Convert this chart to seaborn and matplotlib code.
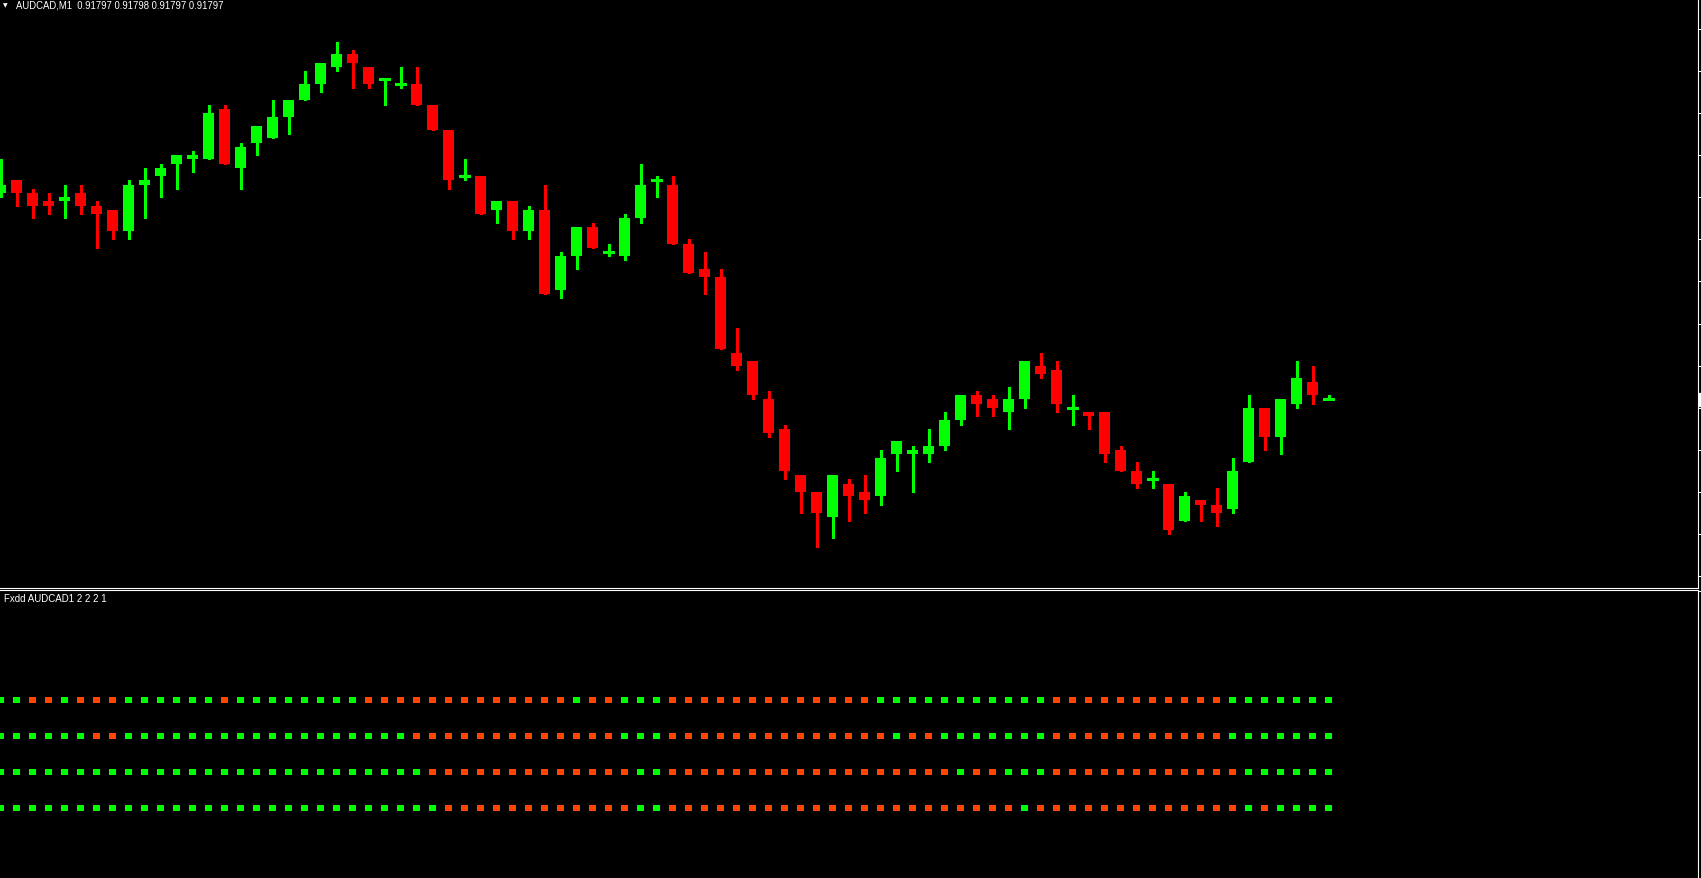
import numpy as np
import pandas as pd
import matplotlib
matplotlib.use("Agg")
import matplotlib.pyplot as plt
import matplotlib.transforms as mtransforms
import seaborn as sns

# ---------------- data ----------------
symbol = "AUDCAD"
timeframe = "M1"
indicator_label = "Fxdd AUDCAD1 2 2 2 1"

open_ = [0.91846, 0.91849, 0.91846, 0.91844, 0.91844, 0.91846, 0.91843, 0.91842, 0.91837, 0.91848,
         0.91850, 0.91853, 0.91854, 0.91854, 0.91866, 0.91852, 0.91858, 0.91859, 0.91864, 0.91868,
         0.91872, 0.91876, 0.91879, 0.91876, 0.91873, 0.91872, 0.91872, 0.91867, 0.91861, 0.91850,
         0.91850, 0.91842, 0.91844, 0.91837, 0.91842, 0.91823, 0.91831, 0.91838, 0.91832, 0.91831,
         0.91840, 0.91849, 0.91848, 0.91834, 0.91828, 0.91826, 0.91808, 0.91806, 0.91797, 0.91790,
         0.91779, 0.91775, 0.91769, 0.91777, 0.91775, 0.91774, 0.91784, 0.91784, 0.91784, 0.91786,
         0.91792, 0.91798, 0.91797, 0.91794, 0.91797, 0.91805, 0.91804, 0.91795, 0.91794, 0.91794,
         0.91785, 0.91780, 0.91778, 0.91777, 0.91768, 0.91773, 0.91772, 0.91771, 0.91782, 0.91795,
         0.91788, 0.91796, 0.91801, 0.91797]
high = [0.91854, 0.91849, 0.91847, 0.91846, 0.91848, 0.91848, 0.91844, 0.91842, 0.91849, 0.91852,
        0.91853, 0.91855, 0.91856, 0.91867, 0.91867, 0.91858, 0.91862, 0.91868, 0.91868, 0.91875,
        0.91877, 0.91882, 0.91880, 0.91876, 0.91873, 0.91876, 0.91876, 0.91867, 0.91861, 0.91854,
        0.91850, 0.91844, 0.91844, 0.91843, 0.91848, 0.91832, 0.91838, 0.91839, 0.91834, 0.91841,
        0.91853, 0.91850, 0.91850, 0.91835, 0.91832, 0.91828, 0.91814, 0.91806, 0.91799, 0.91791,
        0.91779, 0.91775, 0.91779, 0.91778, 0.91779, 0.91785, 0.91787, 0.91786, 0.91790, 0.91794,
        0.91798, 0.91799, 0.91798, 0.91800, 0.91806, 0.91808, 0.91806, 0.91798, 0.91794, 0.91794,
        0.91786, 0.91782, 0.91780, 0.91777, 0.91775, 0.91773, 0.91776, 0.91783, 0.91798, 0.91795,
        0.91797, 0.91806, 0.91805, 0.91798]
low = [0.91845, 0.91843, 0.91840, 0.91841, 0.91840, 0.91841, 0.91833, 0.91835, 0.91835, 0.91840,
       0.91845, 0.91847, 0.91851, 0.91854, 0.91853, 0.91847, 0.91855, 0.91859, 0.91860, 0.91868,
       0.91870, 0.91875, 0.91871, 0.91871, 0.91867, 0.91871, 0.91867, 0.91861, 0.91847, 0.91849,
       0.91841, 0.91839, 0.91835, 0.91835, 0.91822, 0.91821, 0.91828, 0.91833, 0.91831, 0.91830,
       0.91839, 0.91845, 0.91834, 0.91827, 0.91822, 0.91809, 0.91804, 0.91797, 0.91788, 0.91778,
       0.91770, 0.91762, 0.91764, 0.91768, 0.91770, 0.91772, 0.91780, 0.91775, 0.91782, 0.91785,
       0.91791, 0.91793, 0.91793, 0.91790, 0.91795, 0.91802, 0.91794, 0.91791, 0.91790, 0.91782,
       0.91780, 0.91776, 0.91776, 0.91765, 0.91768, 0.91768, 0.91767, 0.91770, 0.91782, 0.91785,
       0.91784, 0.91795, 0.91796, 0.91797]
close = [0.91848, 0.91846, 0.91843, 0.91843, 0.91845, 0.91843, 0.91841, 0.91837, 0.91848, 0.91849,
         0.91852, 0.91855, 0.91855, 0.91865, 0.91853, 0.91857, 0.91862, 0.91864, 0.91868, 0.91872,
         0.91877, 0.91879, 0.91877, 0.91872, 0.91873, 0.91872, 0.91867, 0.91861, 0.91849, 0.91850,
         0.91841, 0.91844, 0.91837, 0.91842, 0.91822, 0.91831, 0.91838, 0.91833, 0.91832, 0.91840,
         0.91848, 0.91849, 0.91834, 0.91827, 0.91826, 0.91809, 0.91805, 0.91798, 0.91789, 0.91780,
         0.91775, 0.91770, 0.91779, 0.91774, 0.91773, 0.91783, 0.91787, 0.91785, 0.91786, 0.91792,
         0.91798, 0.91796, 0.91795, 0.91797, 0.91806, 0.91803, 0.91796, 0.91795, 0.91793, 0.91784,
         0.91780, 0.91777, 0.91778, 0.91766, 0.91774, 0.91772, 0.91770, 0.91780, 0.91795, 0.91788,
         0.91797, 0.91802, 0.91798, 0.91797]

# indicator states per bar (G = up / green, R = down / orange-red), rows top to bottom
signal_line_1 = "GGRRGRRRGGGGGGRGGGGGGGGRRRRRRRRRRRRRGRRGGGRR" + "RRRRRRRRRRRGGGGGGGGGGGRRRRRRRRRRRGGGGGGG"
signal_line_2 = "GGGGGGRRGGGGGGGGGGGGGGGGGGRRRRRRRRRRRRRGGGRR" + "RRRRRRRRRRRRGRRGGGGGGGRRRRRRRRRRRGGGGGGG"
signal_line_3 = "GGGGGGGGGGGGGGGGGGGGGGGGGGGRRRRRRRRRRRRRGGRR" + "RRRRRRRRRRRRRRRRGRRGGGRRRRRRRRRRRRGGGGGG"
signal_line_4 = "GGGGGGGGGGGGGGGGGGGGGGGGGGGGRRRRRRRRRRRRGGRR" + "RRRRRRRRRRRRRRRRRRRRGRRRRRRRRRRRRRGRGGGG"
signal_levels = [4, 3, 2, 1]

# ---------------- style ----------------
sns.set_theme(style="dark", rc={"axes.facecolor": "black", "figure.facecolor": "black",
                                "axes.grid": False})
plt.rcParams["font.family"] = ["Liberation Sans", "DejaVu Sans"]

W, H = 1701, 879
BULL = "#00FF00"
BEAR = "#FF0000"
DOT_DN = "#FF4500"

fig = plt.figure(figsize=(W / 100, H / 100), dpi=100, facecolor="black")
ax1 = fig.add_axes([0, 1 - 588.5 / H, 1697.5 / W, 588.5 / H])
ax2 = fig.add_axes([0, 0, 1697.5 / W, (H - 590.5) / H])

O = np.array(open_)
Hh = np.array(high)
L = np.array(low)
C = np.array(close)
n = len(O)
x = np.arange(n)
up = C >= O
cols = np.where(up, BULL, BEAR)

# wicks
ax1.vlines(x, L, Hh, colors=cols, linewidth=0.75, antialiased=False, zorder=2)
# bodies
bw = 11 / 16
body_bottom = np.minimum(O, C)
body_h = np.abs(C - O)
ax1.bar(x, body_h, bottom=body_bottom, width=bw, color=cols, linewidth=0,
        antialiased=False, zorder=3)
# doji bodies
dj = body_h == 0
ax1.hlines(C[dj], x[dj] - bw / 2, x[dj] + bw / 2, colors=cols[dj], linewidth=0.75,
           antialiased=False, zorder=3)

xlim = (-0.5 / 16, (1697.5 - 0.5) / 16)
ax1.set_xlim(*xlim)
ax1.set_ylim(0.917523, 0.918921)

# indicator dots
states = []
bars = []
levels = []
for lvl, line in zip(signal_levels, [signal_line_1, signal_line_2, signal_line_3, signal_line_4]):
    states += list(line)
    bars += list(range(len(line)))
    levels += [lvl] * len(line)
df = pd.DataFrame({"bar": bars, "level": levels, "state": states})
sns.scatterplot(data=df, x="bar", y="level", hue="state",
                palette={"G": BULL, "R": DOT_DN}, marker="s", s=19, linewidth=0,
                legend=False, ax=ax2, antialiased=False, zorder=3)
ax2.set_xlim(*xlim)
ax2.set_ylim(-0.927, 7.049)
ax2.set_xlabel("")
ax2.set_ylabel("")

# frames / ticks
for ax in (ax1, ax2):
    ax.set_facecolor("black")
    for s in ax.spines.values():
        s.set_visible(False)
    ax.spines["right"].set_visible(True)
    ax.spines["right"].set_color("white")
    ax.spines["right"].set_linewidth(0.8)
    ax.set_xticks([])
    ax.yaxis.tick_right()
    ax.tick_params(axis="y", which="both", direction="out", length=2.2, width=0.75,
                   colors="white", labelright=False, labelleft=False, left=False, right=True)
ax1.spines["bottom"].set_visible(True)
ax1.spines["bottom"].set_color("white")
ax1.spines["bottom"].set_linewidth(0.8)
ax2.spines["top"].set_visible(True)
ax2.spines["top"].set_color("white")
ax2.spines["top"].set_linewidth(0.8)

ax1.set_yticks([0.91755 + 0.0001 * i for i in range(14)])
ax2.set_yticks([7])

# current price marker box at right edge (label itself lies outside the crop)
trans = mtransforms.blended_transform_factory(ax1.transAxes, ax1.transData)
trans = mtransforms.offset_copy(trans, fig=fig, x=3, y=0, units="dots")
ax1.text(1.0, C[-1], " ", transform=trans, ha="left", va="center",
         color="black", fontsize=7, clip_on=False,
         bbox=dict(facecolor="white", edgecolor="white", pad=1.0))

# header texts
header = f"{symbol},{timeframe}  {O[-1]:.5f} {Hh[-1]:.5f} {L[-1]:.5f} {C[-1]:.5f}"
fig.text(15.5 / W, 1 - 1.0 / H, header, ha="left", va="top", color="white", fontsize=6.85)
fig.text(2.8 / W, 1 - 3.5 / H, "\u25BC", ha="left", va="top", color="white", fontsize=4.3,
         family="DejaVu Sans")
fig.text(4.0 / W, 1 - 594.5 / H, indicator_label, ha="left", va="top", color="white",
         fontsize=7.0)

fig.savefig("out.png", dpi=100, facecolor="black")
